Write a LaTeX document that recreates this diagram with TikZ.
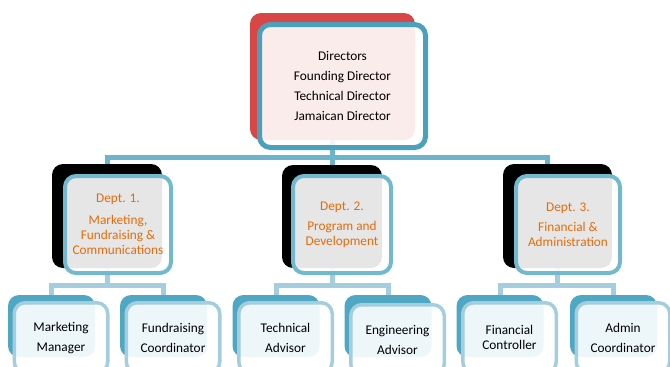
\documentclass[tikz,border=0pt]{standalone}
\usepackage{fontspec}
\setmainfont{Carlito}
\usetikzlibrary{backgrounds}
\definecolor{dirred}{HTML}{D94646}
\definecolor{dirline}{HTML}{4BA0BB}
\definecolor{deptline}{HTML}{72B9D0}
\definecolor{staffline}{HTML}{A4CDDD}
\definecolor{staffback}{HTML}{4EA8C4}
\definecolor{deptorange}{HTML}{E46C0A}
\definecolor{linkline}{HTML}{6CB4CC}

\begin{document}
\begin{tikzpicture}[
    x=1pt, y=-1pt,
    back/.style={rectangle, rounded corners=11pt, inner sep=0pt},
    front/.style={rectangle, rounded corners=11pt, fill=white, fill opacity=0.9, text opacity=1, inner sep=0pt, align=center, font=\fontsize{13.3}{20}\selectfont},
    dirbox/.style={front, draw=dirline, line width=5pt, minimum width=166pt, minimum height=123pt},
    deptbox/.style={front, draw=deptline, line width=4pt, minimum height=97pt, text=deptorange, font=\fontsize{13.3}{15}\selectfont},
    staffbox/.style={front, draw=staffline, line width=3.5pt, minimum width=93.5pt, minimum height=70pt},
    staffshadow/.style={back, fill=staffback, minimum width=87pt, minimum height=62pt},
    link/.style={draw=linkline, line width=5pt},
    stafflink/.style={draw=staffline, line width=5pt}
]
\useasboundingbox (0,0) rectangle (670,367);

% directors
\node[back, fill=dirred, minimum width=165pt, minimum height=127pt] (dirback) at (332.5,76.5) {};
\node[dirbox] (dir) at (342.5,86) {Directors\\Founding Director\\Technical Director\\Jamaican Director};

% departments
\node[back, fill=black, minimum width=110pt, minimum height=104pt] (dept1back) at (107,216) {};
\node[back, fill=black, minimum width=100pt, minimum height=103pt] (dept2back) at (332,216.5) {};
\node[back, fill=black, minimum width=109pt, minimum height=104pt] (dept3back) at (557.5,216) {};
\node[deptbox, minimum width=106pt] (dept1) at (118,224.5) {Dept. 1.\\[7pt]Marketing,\\Fundraising \&\\Communications};
\node[deptbox, minimum width=98pt] (dept2) at (342,224.5) {Dept. 2.\\[5pt]Program and\\Development};
\node[deptbox, minimum width=104pt] (dept3) at (568,224.5) {Dept. 3.\\[5pt]Financial \&\\Administration};

% staff
\node[staffshadow] (mktback) at (51.5,326) {};
\node[staffshadow] (fundback) at (163.5,326) {};
\node[staffshadow] (techback) at (276,326) {};
\node[staffshadow] (engback) at (388,326) {};
\node[staffshadow] (finback) at (500,326) {};
\node[staffshadow] (adminback) at (613.5,326) {};
\node[staffbox] (mkt) at (61,337.75) {Marketing\\Manager};
\node[staffbox] (fund) at (173,337.75) {Fundraising\\Coordinator};
\node[staffbox] (tech) at (285.5,337.75) {Technical\\Advisor};
\node[staffbox] (eng) at (397.5,339.75) {Engineering\\Advisor};
\node[staffbox] (fin) at (509.5,337.75) {Financial\\[-5pt]Controller};
\node[staffbox] (admin) at (623,337.75) {Admin\\Coordinator};

\begin{scope}[on background layer]
\draw[link] (dirback.south) -- ++(0,17) -| (dept1back.north);
\draw[link] (dirback.south) -- ++(0,17) -| (dept2back.north);
\draw[link] (dirback.south) -- ++(0,17) -| ([xshift=-10pt]dept3back.north);
\draw[stafflink] (dept1back.south) -- ++(0,17) -| (mktback.north);
\draw[stafflink] (dept1back.south) -- ++(0,17) -| (fundback.north);
\draw[stafflink] (dept2back.south) -- ++(0,17) -| (techback.north);
\draw[stafflink] (dept2back.south) -- ++(0,17) -| (engback.north);
\draw[stafflink] (dept3back.south) -- ++(0,17) -| (finback.north);
\draw[stafflink] (dept3back.south) -- ++(0,17) -| (adminback.north);
\end{scope}
\end{tikzpicture}
\end{document}
